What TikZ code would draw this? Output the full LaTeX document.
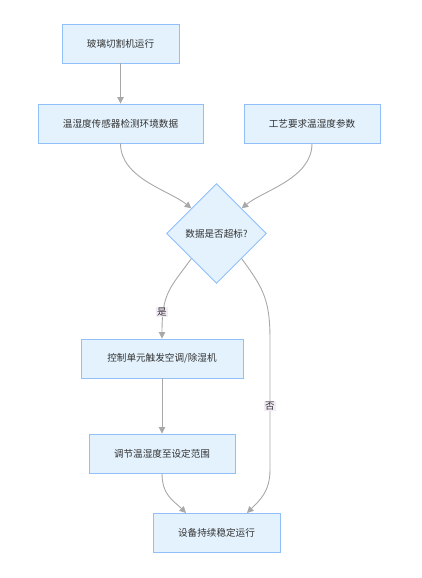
\documentclass[tikz,border=0pt]{standalone}
\usepackage{fontspec}
\newfontfamily\cjk{Noto Sans CJK SC}
\usetikzlibrary{shapes.geometric,arrows.meta}
\definecolor{boxfill}{HTML}{E3F2FD}
\definecolor{boxline}{HTML}{90BFF9}
\definecolor{txt}{HTML}{333333}
\definecolor{edge}{HTML}{A8A8A8}
\definecolor{lblbg}{HTML}{F3ECF7}
\begin{document}
\begin{tikzpicture}[x=1pt,y=-1pt,
  every node/.style={font=\cjk\fontsize{9.6}{11}\selectfont, text=txt},
  box/.style={draw=boxline, fill=boxfill, line width=0.9pt, minimum height=39pt, inner sep=0pt},
  dia/.style={diamond, draw=boxline, fill=boxfill, line width=0.9pt, minimum width=100pt, minimum height=100pt, inner sep=0pt, aspect=1},
  conn/.style={draw=edge, line width=0.9pt, -{Triangle[length=6.5pt,width=6.5pt]}},
  lbl/.style={fill=lblbg, inner sep=1.2pt}]
\useasboundingbox (0,0) rectangle (421,578);
\node[box, minimum width=117pt] (a) at (120.5,43.5) {玻璃切割机运行};
\node[box, minimum width=165pt] (b) at (120.5,123.5) {温湿度传感器检测环境数据};
\node[box, minimum width=136pt] (c) at (312,123.5) {工艺要求温湿度参数};
\node[dia] (d) at (216.5,233.5) {数据是否超标?};
\node[box, minimum width=162pt] (e) at (162,358.5) {控制单元触发空调/除湿机};
\node[box, minimum width=146pt] (f) at (162,453.5) {调节温湿度至设定范围};
\node[box, minimum width=127pt] (g) at (216.5,532.5) {设备持续稳定运行};
\coordinate (ntop) at (270,340);
\coordinate (nbot) at (270,470);
\coordinate (gin1) at (247,513);
\coordinate (gin2) at (186,513);
\draw[conn] (a) -- (b);
\draw[conn] (b.south) .. controls +(0,35) and +(-22,-18) .. (d.north west);
\draw[conn] (c.south) .. controls +(0,35) and +(22,-18) .. (d.north east);
\draw[conn] (d.south west) .. controls +(-22,30) and +(0,-45) .. (e.north);
\draw[conn] (d.south east) .. controls +(22,30) and +(0,-40) .. (ntop) -- (nbot)
  .. controls +(0,22) and +(12,-12) .. (gin1);
\draw[conn] (e) -- (f);
\draw[conn] (f.south) .. controls +(0,22) and +(-12,-12) .. (gin2);
\node[lbl] (yes) at (162,312) {是};
\node[lbl] (no) at (270,406) {否};
\end{tikzpicture}
\end{document}
